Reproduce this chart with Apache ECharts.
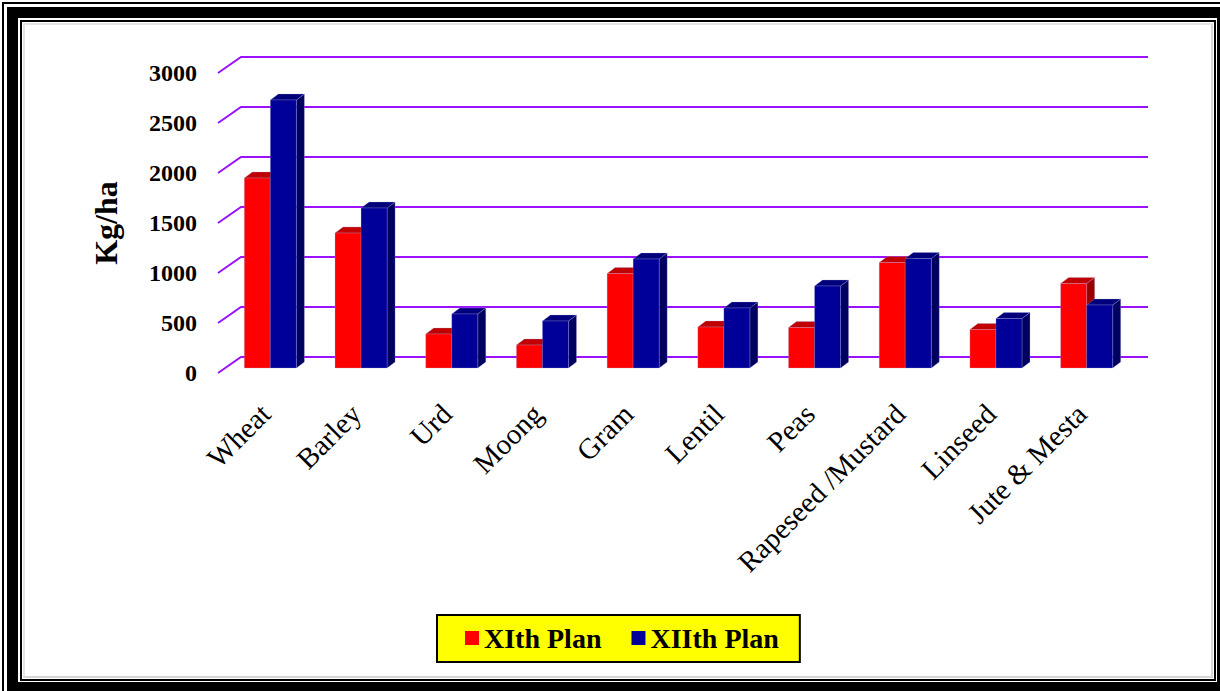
<!DOCTYPE html>
<html><head><meta charset="utf-8">
<script src="https://cdn.jsdelivr.net/npm/echarts@6/dist/echarts.min.js"></script>
<style>
html,body{margin:0;padding:0;background:#fff;width:1220px;height:691px;overflow:hidden;position:relative}
.f{position:absolute;box-sizing:border-box}
#chart{position:absolute;left:0;top:0;width:1220px;height:691px}
</style></head><body>
<div class="f" style="left:2px;top:2px;right:0;bottom:0;border-left:2px solid #000;border-top:2px solid #000"></div>
<div class="f" style="left:7px;top:7px;right:0;bottom:0;background:#000"></div>
<div class="f" style="left:18px;top:18px;right:3px;bottom:9px;background:#fff"></div>
<div class="f" style="left:20px;top:20px;right:4px;bottom:10px;border:2px solid #000;background:#fff"></div>
<div class="f" style="left:23px;top:23px;right:7px;bottom:13px;border:2px solid #d6d6d6;border-left-color:#e4e4e4;border-top-color:#e4e4e4"></div>
<div id="chart"></div>
<script>
// Average yield (Kg/ha) by crop, XIth vs XIIth Plan
const categories = ['Wheat', 'Barley', 'Urd', 'Moong', 'Gram', 'Lentil', 'Peas', 'Rapeseed /Mustard', 'Linseed', 'Jute & Mesta'];
const xithPlan  = [1900, 1350, 340, 230, 945, 410, 405, 1055, 385, 845];
const xiithPlan = [2680, 1600, 540, 470, 1090, 600, 820, 1095, 495, 630];
const yTicks = [0, 500, 1000, 1500, 2000, 2500, 3000];

const FONT = '"Liberation Serif", "Times New Roman", serif';

// pseudo-3D offsets (pixels) relative to the plane the bars stand on
const FRONT = { dx: -7, dy: 5 };   // front edge of floor / walls
const BACK  = { dx: 16, dy: -11 }; // back wall
const DEPTH = { dx: 8, dy: -6 };   // bar thickness

const palettes = [
  { front: '#ff0000', top: '#c00000', side: '#990000' },
  { front: '#000099', top: '#00007a', side: '#000060' }
];

// side-wall diagonal + back-wall gridline + value label for one tick
function wallLines(params, api) {
  const v = api.value(0);
  const cs = params.coordSys;
  const y = api.coord([0, v])[1];
  const x0 = cs.x, x1 = cs.x + cs.width;
  return {
    type: 'group',
    children: [
      { type: 'polyline',
        shape: { points: [[x0 + FRONT.dx, y + FRONT.dy], [x0 + BACK.dx, y + BACK.dy], [x1 + BACK.dx, y + BACK.dy]] },
        style: { stroke: '#9a10ff', lineWidth: 2, fill: null } },
      { type: 'text',
        style: { text: String(v), x: x0 - 28, y: y + FRONT.dy, align: 'right', verticalAlign: 'middle',
                 font: 'bold 24px ' + FONT, fill: '#000' } }
    ]
  };
}

// slanted category name below the front edge of the floor
function categoryLabel(params, api) {
  const i = api.value(0);
  const c = api.coord([i, 0]);
  return {
    type: 'text',
    x: c[0] - 5, y: c[1] + 41,
    rotation: Math.PI / 4,
    style: { text: categories[i], align: 'right', verticalAlign: 'middle', font: '29px ' + FONT, fill: '#000' }
  };
}

function barRenderer(idx) {
  return function (params, api) {
    const i = api.value(0), v = api.value(1);
    const top = api.coord([i, v]);
    const base = api.coord([i, 0]);
    const w = api.size([1, 0])[0] * 0.287;
    const xl = idx === 0 ? top[0] - w : top[0];
    const xr = xl + w;
    const yt = top[1], yb = base[1];
    const p = palettes[idx];
    const edge = 'rgba(170,170,230,0.55)';
    return {
      type: 'group',
      children: [
        { type: 'polygon', shape: { points: [[xr, yt], [xr + DEPTH.dx, yt + DEPTH.dy], [xr + DEPTH.dx, yb + DEPTH.dy], [xr, yb]] },
          style: { fill: p.side, stroke: edge, lineWidth: 0.5 } },
        { type: 'polygon', shape: { points: [[xl, yt], [xr, yt], [xr + DEPTH.dx, yt + DEPTH.dy], [xl + DEPTH.dx, yt + DEPTH.dy]] },
          style: { fill: p.top, stroke: edge, lineWidth: 0.5 } },
        { type: 'rect', shape: { x: xl, y: yt, width: w, height: yb - yt },
          style: { fill: p.front, stroke: edge, lineWidth: 0.5 } }
      ]
    };
  };
}

const chart = echarts.init(document.getElementById('chart'), null, { renderer: 'svg' });
chart.setOption({
  animation: false,
  grid: { left: 225, top: 68, width: 907, height: 300 },
  legend: {
    left: 437, top: 615,
    data: ['XIth Plan', 'XIIth Plan'],
    selectedMode: false,
    icon: 'rect', itemWidth: 14, itemHeight: 14, itemGap: 30,
    backgroundColor: '#ffff00', borderColor: '#000', borderWidth: 2,
    padding: [9, 21, 10, 28],
    textStyle: { fontFamily: FONT, fontWeight: 'bold', fontSize: 28, color: '#000' }
  },
  xAxis: {
    type: 'category', data: categories,
    axisLine: { show: false }, axisTick: { show: false },
    axisLabel: { show: false }
  },
  yAxis: {
    type: 'value', min: 0, max: 3000, interval: 500,
    axisLine: { show: false }, axisTick: { show: false }, splitLine: { show: false },
    axisLabel: { show: false },
    name: 'Kg/ha', nameLocation: 'middle', nameGap: 103,
    nameTextStyle: { fontFamily: FONT, fontWeight: 'bold', fontSize: 32, color: '#000', padding: [0, 10, 0, 0] }
  },
  series: [
    { type: 'custom', name: 'walls', data: yTicks.map(v => [v]), renderItem: wallLines, z: 1, silent: true },
    { type: 'custom', name: 'labels', data: categories.map((c, i) => [i]), renderItem: categoryLabel, z: 1, silent: true },
    { type: 'custom', name: 'XIth Plan', itemStyle: { color: '#ff0000' },
      data: xithPlan.map((v, i) => [i, v]), renderItem: barRenderer(0), z: 2 },
    { type: 'custom', name: 'XIIth Plan', itemStyle: { color: '#000099' },
      data: xiithPlan.map((v, i) => [i, v]), renderItem: barRenderer(1), z: 3 }
  ]
});
</script>
</body></html>
